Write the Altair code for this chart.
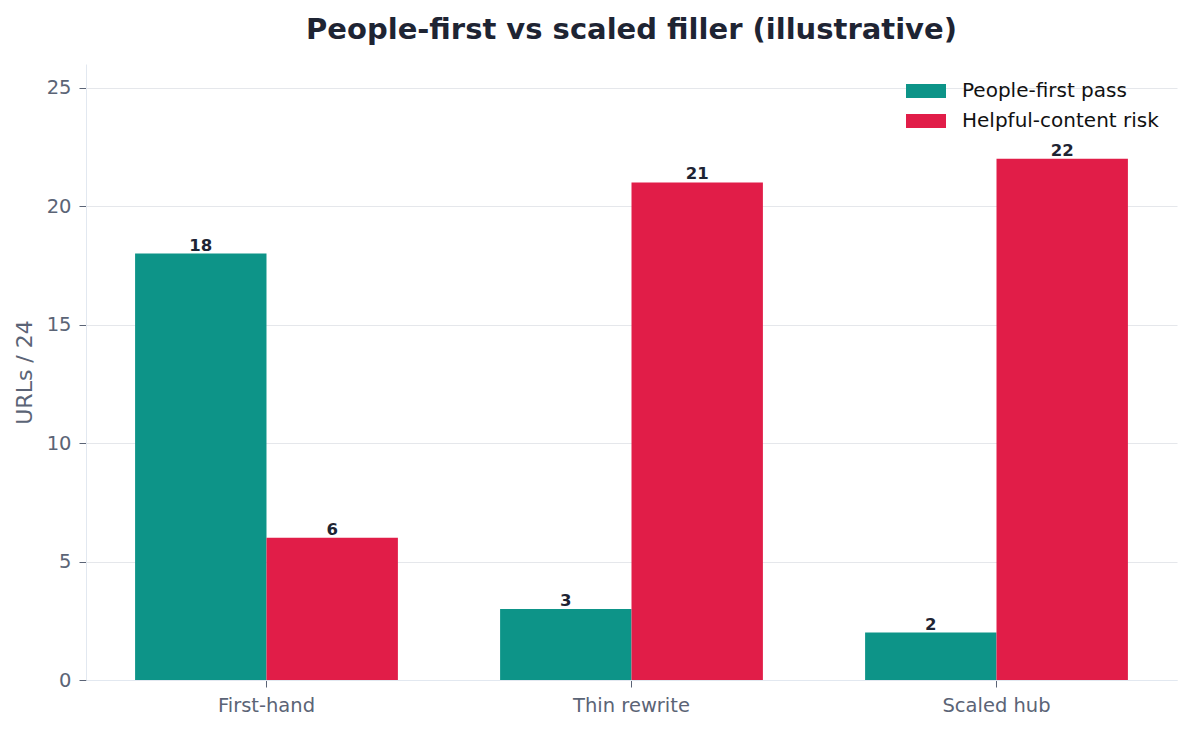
import altair as alt
import pandas as pd

categories = ["First-hand", "Thin rewrite", "Scaled hub"]
series = ["People-first pass", "Helpful-content risk"]
people_first = [18, 3, 2]
helpful_risk = [6, 21, 22]
y_ticks = [0, 5, 10, 15, 20, 25]

TEAL = "#0d9488"
ROSE = "#e11d48"
INK = "#1e2433"
MUTED = "#5b6476"
FONT = "DejaVu Sans"

rows = []
for i, cat in enumerate(categories):
    rows.append({"cat": cat, "series": series[0], "value": people_first[i]})
    rows.append({"cat": cat, "series": series[1], "value": helpful_risk[i]})
df = pd.DataFrame(rows)

x = alt.X(
    "cat:N",
    sort=categories,
    title=None,
    scale=alt.Scale(paddingInner=0.28, paddingOuter=0.1345),
    axis=alt.Axis(
        labelAngle=0,
        labelFontSize=19.5,
        labelColor=MUTED,
        labelPadding=9,
        tickSize=7,
        tickColor=MUTED,
        domainColor="#e2e8f0",
        grid=False,
    ),
)
xoff = alt.XOffset("series:N", sort=series, scale=alt.Scale(paddingInner=0, paddingOuter=0))
y = alt.Y(
    "value:Q",
    scale=alt.Scale(domain=[0, 26], nice=False),
    title="URLs / 24",
    axis=alt.Axis(
        values=y_ticks,
        labelFontSize=19.5,
        labelColor=MUTED,
        labelPadding=8,
        tickSize=7,
        tickColor=MUTED,
        domainColor="#e2e8f0",
        gridColor="#e5e7eb",
        titleFontSize=22,
        titleFontWeight="normal",
        titleColor=MUTED,
        titleX=-62,
        titleY=308,
        titleAngle=270,
        titleAlign="center",
        titleBaseline="middle",
    ),
)

bars = alt.Chart(df).mark_bar().encode(
    x=x,
    xOffset=xoff,
    y=y,
    color=alt.Color(
        "series:N",
        sort=series,
        scale=alt.Scale(domain=series, range=[TEAL, ROSE]),
        legend=alt.Legend(
            title=None,
            orient="none",
            legendX=820,
            legendY=7,
            symbolType="M-1,-0.35L1,-0.35L1,0.35L-1,0.35Z",
            symbolSize=1600,
            symbolStrokeWidth=0,
            symbolOpacity=1,
            labelFontSize=20,
            labelColor="#111111",
            labelOffset=16,
            labelLimit=400,
            rowPadding=0,
            padding=0,
        ),
    ),
)

labels = alt.Chart(df).mark_text(
    baseline="alphabetic", dy=-3, fontSize=16.5, fontWeight="bold", color=INK, font=FONT
).encode(x=x, xOffset=xoff, y=y, text="value:Q")

chart = (
    alt.layer(bars, labels)
    .properties(
        width=1091,
        height=616,
        autosize=alt.AutoSizeParams(type="none"),
        padding={"left": 78, "top": 56, "right": 8, "bottom": 43},
        title=alt.Title(
            "People-first vs scaled filler (illustrative)",
            fontSize=29,
            fontWeight="bold",
            color=INK,
            anchor="middle",
            offset=19,
            font=FONT,
        ),
    )
    .configure(font=FONT)
    .configure_view(stroke=None)
)

chart.save("out.html", embed_options={"renderer": "svg", "actions": False})
